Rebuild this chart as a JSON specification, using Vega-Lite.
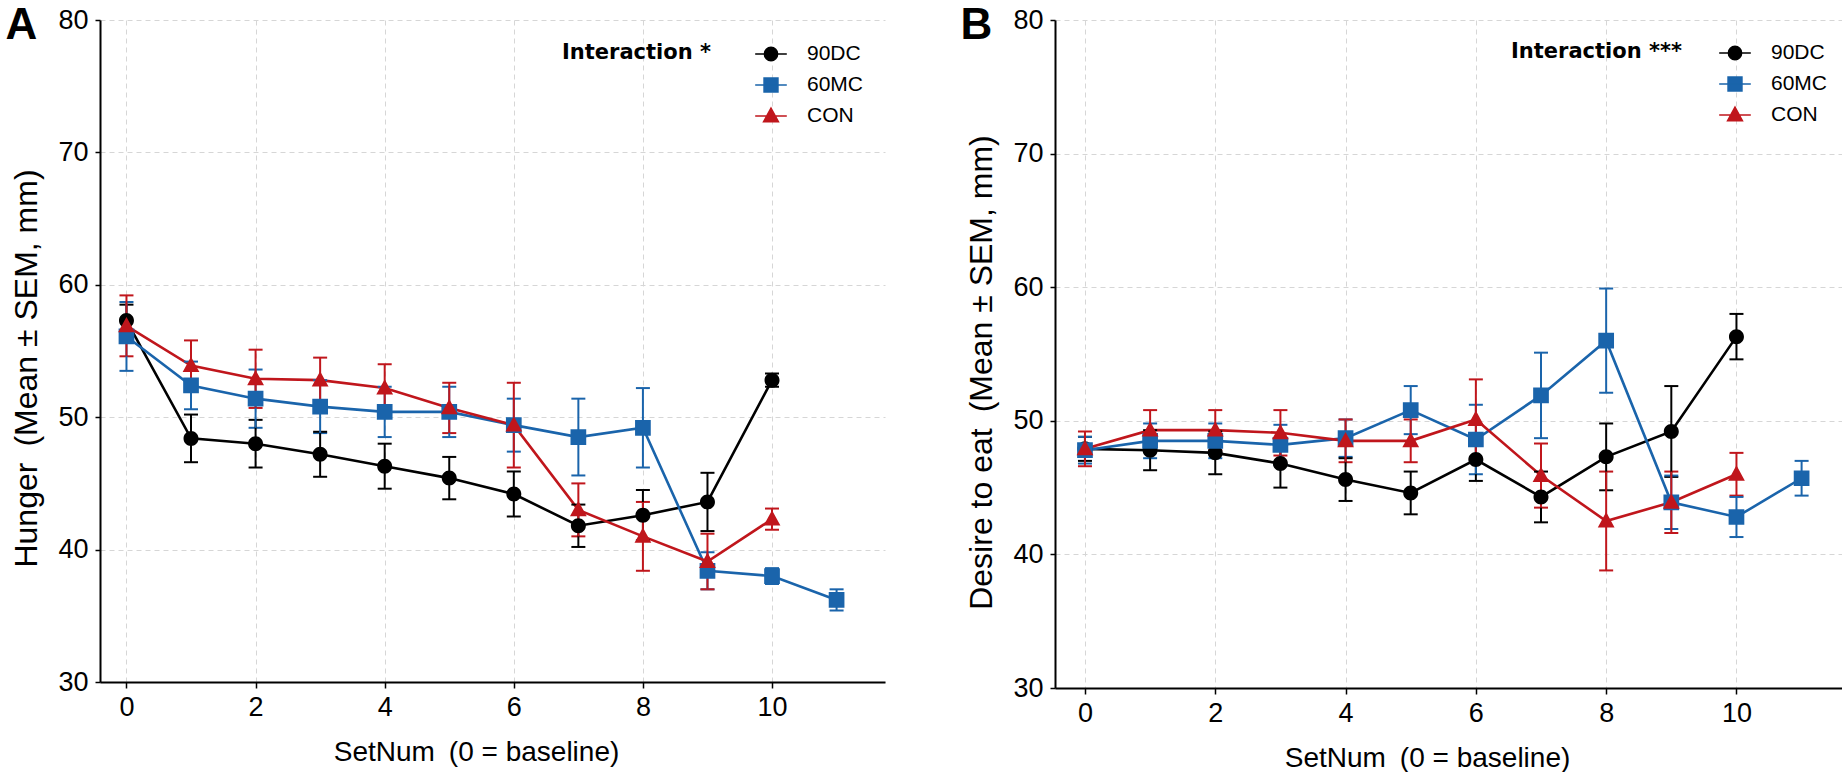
{
  "$schema": "https://vega.github.io/schema/vega-lite/v6.json",
  "background": "white",
  "padding": {"left": 5, "top": 3, "right": 0, "bottom": 0},
  "spacing": 75,
  "config": {
    "view": {"stroke": null},
    "mark": {"opacity": 1},
    "axis": {
      "domainColor": "black", "domainWidth": 2,
      "tickColor": "black", "tickWidth": 1.5, "tickSize": 6,
      "labelFont": "Liberation Sans", "labelFontSize": 27, "labelColor": "black",
      "titleFont": "Liberation Sans", "titleFontWeight": "normal", "titleColor": "black",
      "grid": true, "gridColor": "#d6d6d6", "gridDash": [5, 4], "gridWidth": 1
    },
    "axisX": {"labelPadding": 6, "titlePadding": 18, "titleFontSize": 28},
    "axisY": {"labelPadding": 7, "tickSize": 5, "titlePadding": 14, "titleFontSize": 32}
  },
  "datasets": {
    "hunger": [
      {"group": "90DC", "set": 0, "mean": 57.3, "sem": 1.2},
      {"group": "90DC", "set": 1, "mean": 48.4, "sem": 1.8},
      {"group": "90DC", "set": 2, "mean": 48.0, "sem": 1.8},
      {"group": "90DC", "set": 3, "mean": 47.2, "sem": 1.7},
      {"group": "90DC", "set": 4, "mean": 46.3, "sem": 1.7},
      {"group": "90DC", "set": 5, "mean": 45.4, "sem": 1.6},
      {"group": "90DC", "set": 6, "mean": 44.2, "sem": 1.7},
      {"group": "90DC", "set": 7, "mean": 41.8, "sem": 1.6},
      {"group": "90DC", "set": 8, "mean": 42.6, "sem": 1.9},
      {"group": "90DC", "set": 9, "mean": 43.6, "sem": 2.2},
      {"group": "90DC", "set": 10, "mean": 52.8, "sem": 0.5},
      {"group": "60MC", "set": 0, "mean": 56.1, "sem": 2.6},
      {"group": "60MC", "set": 1, "mean": 52.4, "sem": 1.8},
      {"group": "60MC", "set": 2, "mean": 51.4, "sem": 2.2},
      {"group": "60MC", "set": 3, "mean": 50.8, "sem": 2.0},
      {"group": "60MC", "set": 4, "mean": 50.4, "sem": 1.9},
      {"group": "60MC", "set": 5, "mean": 50.4, "sem": 1.9},
      {"group": "60MC", "set": 6, "mean": 49.4, "sem": 2.0},
      {"group": "60MC", "set": 7, "mean": 48.5, "sem": 2.9},
      {"group": "60MC", "set": 8, "mean": 49.2, "sem": 3.0},
      {"group": "60MC", "set": 9, "mean": 38.4, "sem": 1.4},
      {"group": "60MC", "set": 10, "mean": 38.0, "sem": 0.6},
      {"group": "60MC", "set": 11, "mean": 36.2, "sem": 0.8},
      {"group": "CON", "set": 0, "mean": 56.9, "sem": 2.3},
      {"group": "CON", "set": 1, "mean": 53.9, "sem": 1.9},
      {"group": "CON", "set": 2, "mean": 52.9, "sem": 2.2},
      {"group": "CON", "set": 3, "mean": 52.8, "sem": 1.7},
      {"group": "CON", "set": 4, "mean": 52.2, "sem": 1.8},
      {"group": "CON", "set": 5, "mean": 50.7, "sem": 1.9},
      {"group": "CON", "set": 6, "mean": 49.4, "sem": 3.2},
      {"group": "CON", "set": 7, "mean": 43.0, "sem": 2.0},
      {"group": "CON", "set": 8, "mean": 41.0, "sem": 2.6},
      {"group": "CON", "set": 9, "mean": 39.1, "sem": 2.1},
      {"group": "CON", "set": 10, "mean": 42.3, "sem": 0.8}
    ],
    "desire": [
      {"group": "90DC", "set": 0, "mean": 47.9, "sem": 0.9},
      {"group": "90DC", "set": 1, "mean": 47.8, "sem": 1.5},
      {"group": "90DC", "set": 2, "mean": 47.6, "sem": 1.6},
      {"group": "90DC", "set": 3, "mean": 46.8, "sem": 1.8},
      {"group": "90DC", "set": 4, "mean": 45.6, "sem": 1.6},
      {"group": "90DC", "set": 5, "mean": 44.6, "sem": 1.6},
      {"group": "90DC", "set": 6, "mean": 47.1, "sem": 1.6},
      {"group": "90DC", "set": 7, "mean": 44.3, "sem": 1.9},
      {"group": "90DC", "set": 8, "mean": 47.3, "sem": 2.5},
      {"group": "90DC", "set": 9, "mean": 49.2, "sem": 3.4},
      {"group": "90DC", "set": 10, "mean": 56.3, "sem": 1.7},
      {"group": "60MC", "set": 0, "mean": 47.8, "sem": 1.0},
      {"group": "60MC", "set": 1, "mean": 48.5, "sem": 1.3},
      {"group": "60MC", "set": 2, "mean": 48.5, "sem": 1.3},
      {"group": "60MC", "set": 3, "mean": 48.2, "sem": 1.5},
      {"group": "60MC", "set": 4, "mean": 48.7, "sem": 1.4},
      {"group": "60MC", "set": 5, "mean": 50.8, "sem": 1.8},
      {"group": "60MC", "set": 6, "mean": 48.6, "sem": 2.6},
      {"group": "60MC", "set": 7, "mean": 51.9, "sem": 3.2},
      {"group": "60MC", "set": 8, "mean": 56.0, "sem": 3.9},
      {"group": "60MC", "set": 9, "mean": 43.9, "sem": 2.0},
      {"group": "60MC", "set": 10, "mean": 42.8, "sem": 1.5},
      {"group": "60MC", "set": 11, "mean": 45.7, "sem": 1.3},
      {"group": "CON", "set": 0, "mean": 47.9, "sem": 1.3},
      {"group": "CON", "set": 1, "mean": 49.3, "sem": 1.5},
      {"group": "CON", "set": 2, "mean": 49.3, "sem": 1.5},
      {"group": "CON", "set": 3, "mean": 49.1, "sem": 1.7},
      {"group": "CON", "set": 4, "mean": 48.5, "sem": 1.6},
      {"group": "CON", "set": 5, "mean": 48.5, "sem": 1.6},
      {"group": "CON", "set": 6, "mean": 50.1, "sem": 3.0},
      {"group": "CON", "set": 7, "mean": 45.9, "sem": 2.4},
      {"group": "CON", "set": 8, "mean": 42.5, "sem": 3.7},
      {"group": "CON", "set": 9, "mean": 43.9, "sem": 2.3},
      {"group": "CON", "set": 10, "mean": 46.0, "sem": 1.6}
    ]
  },
  "resolve": {
    "scale": {"color": "independent", "shape": "independent", "stroke": "independent"},
    "legend": {"color": "independent", "shape": "independent", "stroke": "independent"}
  },
  "hconcat": [
    {
      "width": 785,
      "height": 662,
      "data": {"name": "hunger"},
      "resolve": {"axis": {"x": "independent"}},
      "encoding": {
        "x": {"field": "set", "type": "quantitative", "scale": {"domain": [-0.41, 11.75], "nice": false, "zero": false}, "axis": {"values": [0, 2, 4, 6, 8, 10], "title": "SetNum\u2002(0 = baseline)", "titleX": 376}},
        "y": {"field": "mean", "type": "quantitative", "scale": {"domain": [30, 80], "nice": false, "zero": false}, "axis": {"values": [30, 40, 50, 60, 70, 80], "title": "Hunger\u2002(Mean ± SEM, mm)", "titleY": 348}}
      },
      "layer": [
        {
          "mark": {"type": "line", "strokeWidth": 2.6},
          "encoding": {"color": {"field": "group", "type": "nominal", "scale": {"domain": ["90DC", "60MC", "CON"], "range": ["#000000", "#1a64ab", "#c0161c"]}}}
        },
        {
          "mark": {"type": "errorbar", "ticks": {"opacity": 1}, "rule": {"opacity": 1}, "size": 14, "thickness": 2},
          "encoding": {
            "x": {"field": "set", "type": "quantitative", "axis": null},
            "yError": {"field": "sem"}, "color": {"field": "group", "type": "nominal"}}
        },
        {
          "mark": {"type": "point", "filled": true, "size": 1275, "opacity": 1},
          "encoding": {
            "x": {"field": "set", "type": "quantitative", "axis": {"orient": "top", "title": "A", "domain": false, "ticks": false, "labels": false, "grid": false, "titleX": -95, "titleY": 18, "titleAlign": "left", "titleAngle": 0, "titleBaseline": "alphabetic", "titlePadding": 0, "titleFont": "Liberation Sans", "titleFontSize": 44, "titleFontWeight": "bold", "titleColor": "black"}},
            "strokeWidth": {"value": 0},
            "shape": {"field": "group", "type": "nominal", "scale": {"domain": ["90DC", "60MC", "CON"], "range": ["M-1,0H1M0.42,0A0.42,0.42,0,1,1,-0.42,0A0.42,0.42,0,1,1,0.42,0Z", "M-1,0H1M-0.44,-0.44H0.44V0.44H-0.44Z", "M-1,0H1M0,-0.5L0.47,0.36H-0.47Z"]}},
            "stroke": {"field": "group", "type": "nominal", "scale": {"domain": ["90DC", "60MC", "CON"], "range": ["#000000", "#1a64ab", "#c0161c"]}},
            "color": {"field": "group", "type": "nominal", "legend": {
              "title": "Interaction *", "orient": "none", "legendX": 462, "legendY": 17,
              "titleOrient": "left", "titleAnchor": "start", "titleBaseline": "line-top", "titleLineHeight": 32,
              "titleFont": "DejaVu Sans", "titleFontSize": 21, "titleFontWeight": "bold", "titleColor": "black", "titlePadding": 43,
              "labelFont": "Liberation Sans", "labelFontSize": 21, "labelColor": "black", "labelOffset": 19,
              "symbolSize": 1000, "symbolStrokeWidth": 1.5, "symbolOpacity": 1, "rowPadding": 4, "padding": 0
            }}
          }
        }
      ]
    },
    {
      "width": 787,
      "height": 668,
      "data": {"name": "desire"},
      "resolve": {"axis": {"x": "independent"}},
      "encoding": {
        "x": {"field": "set", "type": "quantitative", "scale": {"domain": [-0.46, 11.62], "nice": false, "zero": false}, "axis": {"values": [0, 2, 4, 6, 8, 10], "title": "SetNum\u2002(0 = baseline)", "titleX": 372}},
        "y": {"field": "mean", "type": "quantitative", "scale": {"domain": [30, 80], "nice": false, "zero": false}, "axis": {"values": [30, 40, 50, 60, 70, 80], "title": "Desire to eat\u2002(Mean ± SEM, mm)", "titleY": 352}}
      },
      "layer": [
        {
          "mark": {"type": "line", "strokeWidth": 2.6},
          "encoding": {"color": {"field": "group", "type": "nominal", "scale": {"domain": ["90DC", "60MC", "CON"], "range": ["#000000", "#1a64ab", "#c0161c"]}}}
        },
        {
          "mark": {"type": "errorbar", "ticks": {"opacity": 1}, "rule": {"opacity": 1}, "size": 14, "thickness": 2},
          "encoding": {
            "x": {"field": "set", "type": "quantitative", "axis": null},
            "yError": {"field": "sem"}, "color": {"field": "group", "type": "nominal"}}
        },
        {
          "mark": {"type": "point", "filled": true, "size": 1275, "opacity": 1},
          "encoding": {
            "x": {"field": "set", "type": "quantitative", "axis": {"orient": "top", "title": "B", "domain": false, "ticks": false, "labels": false, "grid": false, "titleX": -95, "titleY": 18, "titleAlign": "left", "titleAngle": 0, "titleBaseline": "alphabetic", "titlePadding": 0, "titleFont": "Liberation Sans", "titleFontSize": 44, "titleFontWeight": "bold", "titleColor": "black"}},
            "strokeWidth": {"value": 0},
            "shape": {"field": "group", "type": "nominal", "scale": {"domain": ["90DC", "60MC", "CON"], "range": ["M-1,0H1M0.42,0A0.42,0.42,0,1,1,-0.42,0A0.42,0.42,0,1,1,0.42,0Z", "M-1,0H1M-0.44,-0.44H0.44V0.44H-0.44Z", "M-1,0H1M0,-0.5L0.47,0.36H-0.47Z"]}},
            "stroke": {"field": "group", "type": "nominal", "scale": {"domain": ["90DC", "60MC", "CON"], "range": ["#000000", "#1a64ab", "#c0161c"]}},
            "color": {"field": "group", "type": "nominal", "legend": {
              "title": "Interaction ***", "orient": "none", "legendX": 456, "legendY": 16,
              "titleOrient": "left", "titleAnchor": "start", "titleBaseline": "line-top", "titleLineHeight": 32,
              "titleFont": "DejaVu Sans", "titleFontSize": 21, "titleFontWeight": "bold", "titleColor": "black", "titlePadding": 36,
              "labelFont": "Liberation Sans", "labelFontSize": 21, "labelColor": "black", "labelOffset": 19,
              "symbolSize": 1000, "symbolStrokeWidth": 1.5, "symbolOpacity": 1, "rowPadding": 4, "padding": 0
            }}
          }
        }
      ]
    }
  ]
}
